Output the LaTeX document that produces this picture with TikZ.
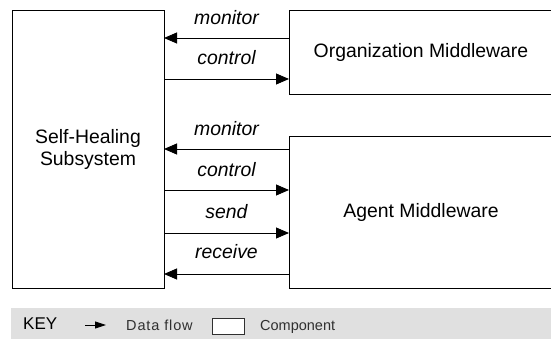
\documentclass[tikz,border=0pt]{standalone}
\usepackage{fontspec}
\setmainfont{Liberation Sans}
\usetikzlibrary{arrows.meta}
\definecolor{keybg}{HTML}{E0E0E0}
\definecolor{keytext}{HTML}{303030}
\begin{document}
\begin{tikzpicture}[x=1pt,y=-1pt,
  box/.style={draw=black, line width=0.9pt, inner sep=0pt, outer sep=0pt, align=center,
    font=\fontsize{19.4}{22}\selectfont},
  flow/.style={draw=black, line width=0.9pt, -{Triangle[length=13pt,width=11pt]}},
  lbl/.style={anchor=base, inner sep=0pt, font=\fontsize{19.4}{22}\selectfont\itshape},
  keylbl/.style={anchor=base west, inner sep=0pt, text=keytext, font=\fontsize{14.5}{16}\selectfont}]
\useasboundingbox (0,0) rectangle (551,339);
\clip (0,0) rectangle (551,339);
% components
\node[box, minimum width=152pt, minimum height=278pt, anchor=north west] (shs) at (12,10) {Self-Healing\\Subsystem};
\node[box, minimum width=264pt, minimum height=84pt, anchor=north west] (org) at (289,10) {Organization Middleware};
\node[box, minimum width=264pt, minimum height=152pt, anchor=north west] (agent) at (289,136) {Agent Middleware};
% data flows
\draw[flow] (org.west |- 0,38) -- (shs.east |- 0,38);
\draw[flow] (shs.east |- 0,79) -- (org.west |- 0,79);
\draw[flow] (agent.west |- 0,149) -- (shs.east |- 0,149);
\draw[flow] (shs.east |- 0,190) -- (agent.west |- 0,190);
\draw[flow] (shs.east |- 0,233) -- (agent.west |- 0,233);
\draw[flow] (agent.west |- 0,274) -- (shs.east |- 0,274);
% labels
\node[lbl] (l1) at (226.5,24.5) {monitor};
\node[lbl] (l2) at (226.5,65) {control};
\node[lbl] (l3) at (226.5,135.5) {monitor};
\node[lbl] (l4) at (226.5,177) {control};
\node[lbl] (l5) at (226.5,218) {send};
\node[lbl] (l6) at (226.5,258) {receive};
% key
\fill[keybg] (11,308) rectangle (551,339);
\node[anchor=base west, inner sep=0pt, font=\fontsize{17}{19}\selectfont] (key) at (23,329) {KEY};
\coordinate (ka) at (85,325);
\coordinate (kb) at (106,325);
\draw[draw=black, line width=0.9pt, -{Triangle[length=11pt,width=7pt]}] (ka) -- (kb);
\node[keylbl] (kdf) at (126,330.5) {\addfontfeature{LetterSpace=6}Data flow};
\node[draw=keytext, fill=white, line width=0.9pt, minimum width=32pt, minimum height=16pt, inner sep=0pt, anchor=north west] (kcomp) at (212,318) {};
\node[keylbl] (kc) at (260,330.5) {Component};
\end{tikzpicture}
\end{document}
